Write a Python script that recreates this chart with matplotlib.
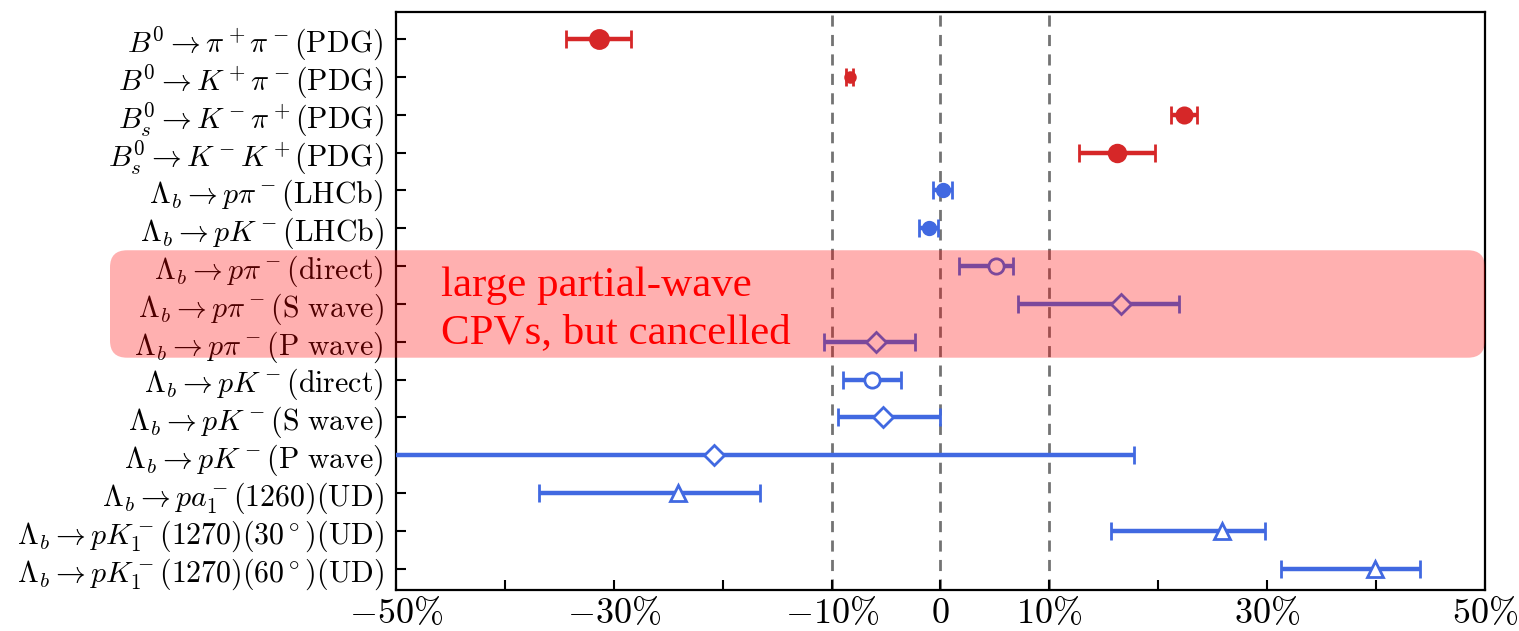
import numpy as np
import matplotlib
matplotlib.use("Agg")
import matplotlib.pyplot as plt
from matplotlib.patches import FancyBboxPatch

plt.rcParams['mathtext.fontset'] = 'cm'
plt.rcParams['font.family'] = 'DejaVu Serif'

# decay channels, top to bottom
labels = [
    r'$B^0\to\pi^+\pi^-(\mathrm{PDG})$',
    r'$B^0\to K^+\pi^-(\mathrm{PDG})$',
    r'$B_s^0\to K^-\pi^+(\mathrm{PDG})$',
    r'$B_s^0\to K^-K^+(\mathrm{PDG})$',
    r'$\Lambda_b\to p\pi^-(\mathrm{LHCb})$',
    r'$\Lambda_b\to pK^-(\mathrm{LHCb})$',
    r'$\Lambda_b\to p\pi^-(\mathrm{direct})$',
    r'$\Lambda_b\to p\pi^-(\mathrm{S\ wave})$',
    r'$\Lambda_b\to p\pi^-(\mathrm{P\ wave})$',
    r'$\Lambda_b\to pK^-(\mathrm{direct})$',
    r'$\Lambda_b\to pK^-(\mathrm{S\ wave})$',
    r'$\Lambda_b\to pK^-(\mathrm{P\ wave})$',
    r'$\Lambda_b\to pa_1^-(1260)(\mathrm{UD})$',
    r'$\Lambda_b\to pK_1^-(1270)(30^\circ)(\mathrm{UD})$',
    r'$\Lambda_b\to pK_1^-(1270)(60^\circ)(\mathrm{UD})$',
]

# A_CP in percent, with lower / upper errors
acp = [-31.4, -8.34, 22.4, 16.2, 0.2, -1.1,
       5.07, 16.55, -5.92, -6.26, -5.25, -20.8, -24.1, 25.85, 39.94]
err_lo = [3.0, 0.32, 1.2, 3.5, 0.9, 0.9,
          3.37, 9.41, 4.75, 2.67, 4.13, 40.0, 12.74, 10.19, 8.67]
err_hi = [3.0, 0.32, 1.2, 3.5, 0.9, 0.9,
          1.56, 5.35, 3.58, 2.61, 5.20, 38.56, 7.57, 3.95, 4.09]
colors = ['tab:red'] * 4 + ['royalblue'] * 11
markers = ['o'] * 6 + ['o', 'D', 'D', 'o', 'D', 'D', '^', '^', '^']
filled = [True] * 6 + [False] * 9
msizes = [13, 7, 11, 12, 9, 9, 11, 10, 10, 11, 10, 10, 12, 12, 12]

xticks = [-50, -40, -30, -20, -10, 0, 10, 20, 30, 40, 50]
xticklabels = [r'$-50\%$', '', r'$-30\%$', '', r'$-10\%$', r'$0$',
               r'$10\%$', '', r'$30\%$', '', r'$50\%$']
ref_lines = [-10, 0, 10]

fig = plt.figure(figsize=(15.19, 6.31), dpi=100)
ax = fig.add_axes([0.2607, 0.065, 0.9776 - 0.2607, 0.9805 - 0.065])

ypos = np.arange(len(labels))
for xv in ref_lines:
    ax.axvline(xv, color='0.45', ls='--', lw=2, dashes=(4, 3), zorder=1)

for i in range(len(labels)):
    ax.errorbar(acp[i], ypos[i], xerr=[[err_lo[i]], [err_hi[i]]],
                fmt=markers[i], color=colors[i], ecolor=colors[i],
                mfc=colors[i] if filled[i] else 'white', mec=colors[i],
                mew=2, ms=msizes[i], elinewidth=3.2, capsize=6.5,
                capthick=3.8, zorder=3)

ax.set_xlim(-50, 50)
ax.set_ylim(14.56, -0.71)
ax.set_yticks(ypos)
ax.set_yticklabels(labels, fontsize=21.5)
ax.set_xticks(xticks)
ax.set_xticklabels(xticklabels, fontsize=26)
ax.tick_params(axis='both', direction='in', length=7, width=1.5)
ax.tick_params(axis='y', pad=9)
ax.tick_params(axis='x', pad=4)
for sp in ax.spines.values():
    sp.set_linewidth(1.6)

# highlight box over the partial-wave rows
inch = fig.dpi_scale_trans.inverted()
_, y_top = inch.transform(ax.transData.transform((0, 5.58)))
_, y_bot = inch.transform(ax.transData.transform((0, 8.42)))
x_right, _ = inch.transform(ax.transData.transform((50, 0)))
x_left = 1.10
box = FancyBboxPatch((x_left, y_bot), x_right - x_left, y_top - y_bot,
                     boxstyle='round,pad=0,rounding_size=0.17',
                     transform=fig.dpi_scale_trans, facecolor='red',
                     edgecolor='none', alpha=0.31, zorder=5)
fig.add_artist(box)

ax.text(-45.9, 7.15, 'large partial-wave\nCPVs, but cancelled', color='red',
        fontsize=31, family='Liberation Serif', va='center', ha='left',
        linespacing=1.3, zorder=6)

fig.savefig('out.png', dpi=100)
